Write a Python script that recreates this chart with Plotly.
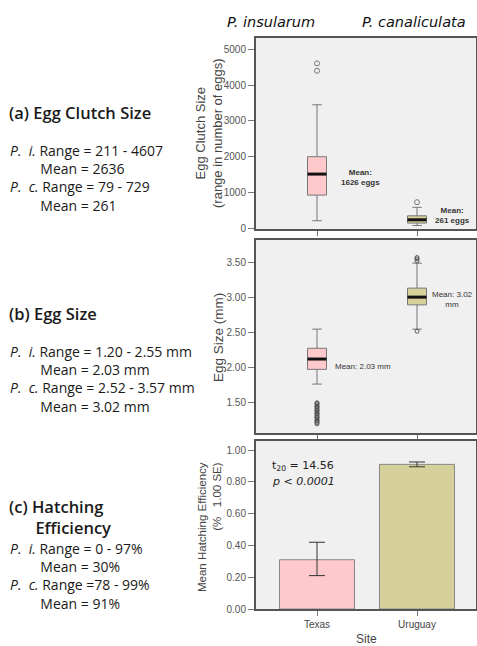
import plotly.graph_objects as go

# ---------------- data ----------------
species = ["P. insularum", "P. canaliculata"]
sites = ["Texas", "Uruguay"]
site_pos = [0, 1]

# (a) egg clutch size box stats
clutch_q1 = [927, 145]
clutch_median = [1514, 237]
clutch_q3 = [2000, 349]
clutch_low = [211, 79]
clutch_high = [3450, 585]
clutch_outliers = [[4400, 4607], [729]]
clutch_mean_text = ["Mean:<br>1626 eggs", "Mean:<br>261 eggs"]

# (b) egg size box stats (mm)
size_q1 = [1.977, 2.896]
size_median = [2.124, 3.006]
size_q3 = [2.277, 3.134]
size_low = [1.767, 2.55]
size_high = [2.55, 3.49]
size_outliers = [
    [1.20, 1.22, 1.24, 1.25, 1.27, 1.29, 1.30, 1.32, 1.34, 1.35, 1.37,
     1.39, 1.40, 1.42, 1.44, 1.45, 1.47, 1.49, 1.50],
    [2.52, 3.52, 3.55, 3.57],
]
size_mean_text = ["Mean: 2.03 mm", "Mean: 3.02<br>mm"]

# (c) hatching efficiency
hatch_mean = [0.31, 0.91]
hatch_se_plus = [0.11, 0.015]
hatch_se_minus = [0.10, 0.015]

# left-hand summary texts
IND = "\u2003\u2003\u2009"
text_a = ["<i>P.  i.</i> Range = 211 - 4607", IND + "Mean = 2636",
          "<i>P.  c.</i> Range = 79 - 729", IND + "Mean = 261"]
text_b = ["<i>P.  i.</i> Range = 1.20 - 2.55 mm", IND + "Mean = 2.03 mm",
          "<i>P.  c.</i> Range = 2.52 - 3.57 mm", IND + "Mean = 3.02 mm"]
text_c = ["<i>P.  i.</i> Range = 0 - 97%", IND + "Mean = 30%",
          "<i>P.  c.</i> Range =78 - 99%", IND + "Mean = 91%"]

# ---------------- layout helpers ----------------
W, H = 477, 646
L, R, T, B = 256, 1, 38, 37
PW, PH = W - L - R, H - T - B


def px(x):
    return (x - L) / PW


def py(y):
    return (H - B - y) / PH


def dom(top, bottom):
    return [py(bottom), py(top)]


fills = ["#FFC8CB", "#D6D19A"]
BOX_W = 0.19
AX_FONT = "Liberation Sans, Arial, sans-serif"
TXT_FONT = "Open Sans, Noto Sans, sans-serif"

fig = go.Figure()

# ---- panel 1: clutch size ----
for i in range(2):
    fig.add_trace(go.Box(
        x=[site_pos[i]], q1=[clutch_q1[i]], median=[clutch_median[i]], q3=[clutch_q3[i]],
        lowerfence=[clutch_low[i]], upperfence=[clutch_high[i]],
        width=BOX_W, whiskerwidth=0.5, fillcolor=fills[i],
        line=dict(color="#777", width=1), xaxis="x", yaxis="y", showlegend=False,
        hoverinfo="skip"))
    fig.add_trace(go.Scatter(
        x=[site_pos[i] - BOX_W / 2, site_pos[i] + BOX_W / 2],
        y=[clutch_median[i], clutch_median[i]], mode="lines",
        line=dict(color="#111", width=3), xaxis="x", yaxis="y", showlegend=False))
    fig.add_trace(go.Scatter(
        x=[site_pos[i]] * len(clutch_outliers[i]), y=clutch_outliers[i], mode="markers",
        marker=dict(symbol="circle-open", size=5, color="#777", line=dict(width=1)),
        xaxis="x", yaxis="y", showlegend=False))

# ---- panel 2: egg size ----
for i in range(2):
    fig.add_trace(go.Box(
        x=[site_pos[i]], q1=[size_q1[i]], median=[size_median[i]], q3=[size_q3[i]],
        lowerfence=[size_low[i]], upperfence=[size_high[i]],
        width=BOX_W, whiskerwidth=0.5, fillcolor=fills[i],
        line=dict(color="#777", width=1), xaxis="x2", yaxis="y2", showlegend=False,
        hoverinfo="skip"))
    fig.add_trace(go.Scatter(
        x=[site_pos[i] - BOX_W / 2, site_pos[i] + BOX_W / 2],
        y=[size_median[i], size_median[i]], mode="lines",
        line=dict(color="#111", width=3), xaxis="x2", yaxis="y2", showlegend=False))
    fig.add_trace(go.Scatter(
        x=[site_pos[i]] * len(size_outliers[i]), y=size_outliers[i], mode="markers",
        marker=dict(symbol="circle-open", size=4, color="#555", line=dict(width=1)),
        xaxis="x2", yaxis="y2", showlegend=False))

# ---- panel 3: hatching efficiency ----
fig.add_trace(go.Bar(
    x=site_pos, y=hatch_mean, width=0.75,
    marker=dict(color=fills, line=dict(color="#888", width=1)),
    error_y=dict(type="data", array=hatch_se_plus, arrayminus=hatch_se_minus,
                 color="#333", thickness=1, width=8),
    xaxis="x3", yaxis="y3", showlegend=False))

xcommon = dict(range=[-0.61, 1.59], showgrid=False, zeroline=False, showline=True,
               mirror=True, linecolor="#555", linewidth=2, ticks="outside", ticklen=5,
               tickcolor="#777", tickvals=site_pos, ticktext=sites,
               tickfont=dict(family=AX_FONT, size=10, color="#444"))
ycommon = dict(showgrid=False, zeroline=False, showline=True, mirror=True,
               linecolor="#555", linewidth=2, ticks="outside", ticklen=6,
               tickcolor="#777", tickfont=dict(family=AX_FONT, size=10, color="#555"))

fig.update_layout(
    width=W, height=H, margin=dict(l=L, r=R, t=T, b=B, autoexpand=False),
    paper_bgcolor="white", plot_bgcolor="#f0f0f0",
    xaxis=dict(xcommon, domain=[0, 1], anchor="y", showticklabels=False),
    xaxis2=dict(xcommon, domain=[0, 1], anchor="y2", showticklabels=False),
    xaxis3=dict(xcommon, domain=[0, 1], anchor="y3"),
    yaxis=dict(ycommon, domain=dom(38, 229), range=[-20, 5316],
               tickvals=[0, 1000, 2000, 3000, 4000, 5000]),
    yaxis2=dict(ycommon, domain=dom(240, 433), range=[1.07, 3.82],
                tickvals=[1.5, 2.0, 2.5, 3.0, 3.5], tickformat=".2f"),
    yaxis3=dict(ycommon, domain=dom(441, 609), range=[0, 1.057],
                tickvals=[0, 0.2, 0.4, 0.6, 0.8, 1.0], tickformat=".2f"),
    showlegend=False,
)

ann = []


def add(text, x, y, size, family=TXT_FONT, color="#1a1a1a", xanchor="left",
        angle=0, align="left", weight=None, yanchor="middle"):
    f = dict(family=family, size=size, color=color)
    if weight:
        f["weight"] = weight
    ann.append(dict(text=text, x=px(x), y=py(y), xref="paper", yref="paper",
                    showarrow=False, xanchor=xanchor, yanchor=yanchor, font=f,
                    textangle=angle, align=align))


# species headers
add("<i>" + species[0] + "</i>", 271, 22, 14.5, family="DejaVu Sans, sans-serif",
    color="#111", xanchor="center")
add("<i>" + species[1] + "</i>", 414, 22, 14.5, family="DejaVu Sans, sans-serif",
    color="#111", xanchor="center")

# left column
add("(a) Egg Clutch Size", 7, 112, 16.5, weight=600)
add("<br>".join(text_a), 8, 178, 14)
add("(b) Egg Size", 7, 313, 16.5, weight=600)
add("<br>".join(text_b), 8, 379, 14)
add("(c) Hatching<br>\u2003\u2002\u200aEfficiency", 7, 516.5, 16.5, weight=600)
add("<br>".join(text_c), 8, 576, 14)

# y axis titles
add("Egg Clutch Size<br>(range in number of eggs)", 209, 133, 13, family=AX_FONT,
    color="#444", xanchor="center", angle=-90, align="center")
add("Egg Size (mm)", 218, 338, 13.5, family=AX_FONT, color="#444", xanchor="center", angle=-90)
add("Mean Hatching Efficiency<br>(%\u00a0\u00a0\u00a01.00 SE)", 209, 527, 11.5, family=AX_FONT,
    color="#444", xanchor="center", angle=-90, align="right")
add("Site", 366, 639, 12, family=AX_FONT, color="#444", xanchor="center")

# in-panel labels
add("<b>" + clutch_mean_text[0] + "</b>", 360, 178, 8, family=AX_FONT, color="#333",
    xanchor="center", align="center")
add("<b>" + clutch_mean_text[1] + "</b>", 452, 216, 8, family=AX_FONT, color="#333",
    xanchor="center", align="center")
add(size_mean_text[0], 363, 367, 8, family=AX_FONT, color="#333", xanchor="center")
add(size_mean_text[1], 452, 299, 8, family=AX_FONT, color="#333", xanchor="center",
    align="center")
add("t<sub>20</sub> = 14.56", 270, 466, 11, family="DejaVu Sans, sans-serif", color="#222")
add("<i>p &lt; 0.0001</i>", 270, 481, 11, family="DejaVu Sans, sans-serif", color="#222")

fig.update_layout(annotations=ann)
fig.write_html("out.html", config={"displayModeBar": False},
               post_script="document.body.style.margin='0px';")
